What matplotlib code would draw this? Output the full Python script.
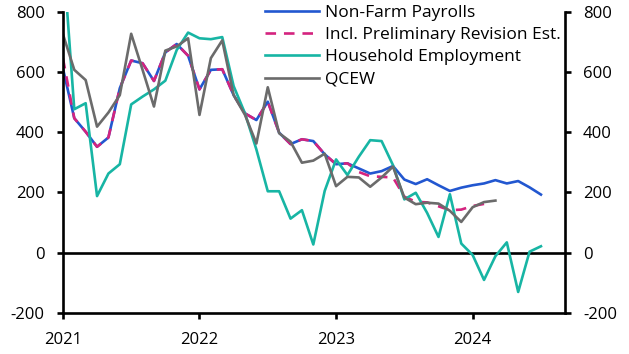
import matplotlib
matplotlib.use("Agg")
import matplotlib.pyplot as plt
import numpy as np

# monthly values, Jan 2021 onwards (thousands)
nfp = [613, 447, 402, 352, 383, 547, 639, 630, 571, 666, 694, 655,
       543, 608, 610, 524, 463, 441, 502, 399, 361, 377, 371, 327,
       294, 297, 280, 263, 271, 288, 243, 228, 244, 224, 205, 216,
       224, 230, 241, 230, 238, 217, 193]
revision = [647, 447, 402, 352, 383, 547, 639, 630, 571, 666, 694, 655,
            543, 608, 610, 524, 463, 441, 502, 399, 361, 377, 371, 327,
            294, 297, 268, 254, 252, 250, 186, 169, 167, 154, 141, 143,
            155, 162]
household = [1000, 477, 497, 188, 263, 294, 493, 519, 543, 572, 674, 732,
             713, 710, 717, 554, 463, 343, 204, 204, 113, 141, 27, 205,
             310, 258, 319, 374, 371, 291, 177, 199, 132, 52, 194, 30,
             -8, -91, -12, 34, -131, 3, 21]
qcew = [727, 608, 574, 419, 466, 524, 728, 608, 486, 672, 686, 713,
        458, 647, 706, 524, 458, 363, 550, 397, 369, 299, 306, 329,
        221, 252, 250, 219, 250, 286, 183, 161, 166, 163, 139, 102,
        151, 168, 173]
year_labels = ["2021", "2022", "2023", "2024"]

plt.rcParams['font.family'] = ['Open Sans', 'DejaVu Sans']
plt.rcParams['axes.unicode_minus'] = False

fig = plt.figure(figsize=(6.29, 3.54), dpi=100)
ax = fig.add_axes([0.100, 0.1167, 0.798, 0.849])

lw = 1.9
ax.plot(np.arange(len(nfp)), nfp, color='#2257d0', lw=lw, label='Non-Farm Payrolls')
ax.plot(np.arange(len(revision)), revision, color='#d4237f', lw=lw,
        dashes=(4, 3), label='Incl. Preliminary Revision Est.')
ax.plot(np.arange(len(household)), household, color='#17b5a4', lw=lw,
        label='Household Employment')
ax.plot(np.arange(len(qcew)), qcew, color='#6b6b6b', lw=lw, label='QCEW')
ax.axhline(0, color='black', lw=1.9, zorder=1)

ax.set_ylim(-200, 800)
ax.set_yticks([-200, 0, 200, 400, 600, 800])
ax.set_xlim(0, 44.1)
ax.set_xticks([0, 12, 24, 36])
ax.set_xticklabels(year_labels)

for side in ['left', 'right', 'bottom']:
    ax.spines[side].set_linewidth(1.9)
ax.spines['top'].set_visible(False)
ax.tick_params(axis='y', right=True, labelright=True, direction='out',
               length=4, width=1.9, pad=9, labelsize=12)
ax.tick_params(axis='x', direction='out', length=4, width=1.9, pad=10,
               labelsize=12)

ax.legend(loc='upper right', bbox_to_anchor=(1.012, 1.06), frameon=False,
          fontsize=12.5, handlelength=3.1, handletextpad=0.35, labelspacing=0.36,
          borderpad=0.1)

fig.savefig('out.png', dpi=100)
